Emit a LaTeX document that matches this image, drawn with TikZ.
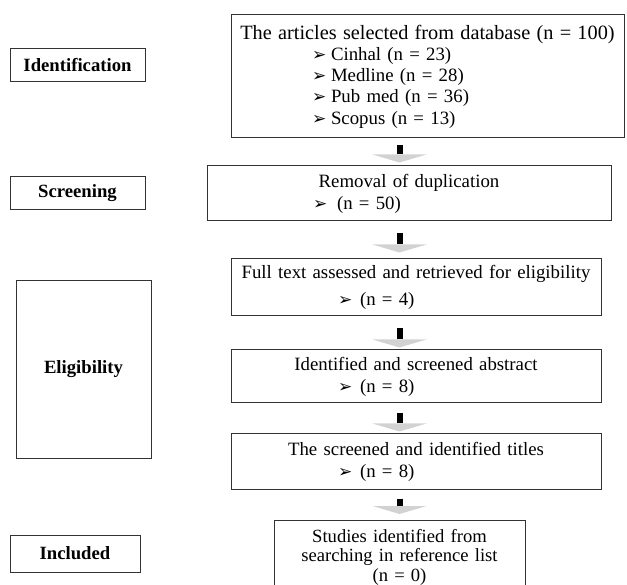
\documentclass[tikz,border=0pt]{standalone}
\usepackage{fontspec}
\setmainfont{Liberation Serif}
\newfontfamily\symfont{DejaVu Sans}
\usetikzlibrary{arrows.meta}
\newcommand{\bul}[1]{\makebox[#1][l]{\symfont\fontsize{17}{17}\selectfont ➢}}
\newcommand{\bline}[3]{\makebox[\hsize][l]{\hspace*{#1}\bul{#2}#3}}

\begin{document}
\begin{tikzpicture}[x=1pt,y=-1pt,
	box/.style = {draw=black!80, line width=1pt, inner sep=0pt, align=center,
		font=\fontsize{18.8}{22}\selectfont},
	stage/.style = {draw=black!80, line width=1pt, inner sep=0pt,
		font=\bfseries\fontsize{18.7}{20}\selectfont},
	flow/.style 2 args = {line width=6pt, black, shorten <=#1, shorten >=#2,
		-{Triangle[width=54pt,length=8pt,line width=0pt,color=gray!35]}}]
	
	\clip (0,0) rectangle (627,585);
	
	% stages on the left
	\node[stage, minimum width=135pt, minimum height=33pt] (ident) at (77.5,65.5) {Identification};
	\node[stage, minimum width=135pt, minimum height=33pt] (screen) at (77.5,193.5) {Screening};
	\node[stage, minimum width=135pt, minimum height=177pt] (elig) at (83.5,369.5) {Eligibility};
	\node[stage, minimum width=130pt, minimum height=37pt] (incl) at (75,553.5) {Included};
	
	% flow boxes
	\node[box, text width=393pt, minimum height=123pt, font=\fontsize{18.8}{21.3}\selectfont] (db) at (427.5,76.5)
	{{\fontsize{20.3}{21.3}\selectfont The articles selected from database (n = 100)}\\
		\bline{81pt}{19pt}{Cinhal (n = 23)}\\
		\bline{81pt}{19pt}{Medline (n = 28)}\\
		\bline{81pt}{19pt}{Pub med (n = 36)}\\
		\bline{81pt}{19pt}{Scopus (n = 13)}};
	\node[box, text width=404pt, minimum height=55pt] (dup) at (409,193.5)
	{Removal of duplication\\ \bline{106pt}{24pt}{(n = 50)}};
	\node[box, text width=370pt, minimum height=57pt] (full) at (416,287.5)
	{Full text assessed and retrieved for eligibility\\[5pt] \bline{107pt}{22pt}{(n = 4)}};
	\node[box, text width=370pt, minimum height=53pt] (abs) at (416,376.5)
	{Identified and screened abstract\\ \bline{107pt}{22pt}{(n = 8)}};
	\node[box, text width=370pt, minimum height=55pt] (tit) at (416,461.5)
	{The screened and identified titles\\ \bline{107pt}{22pt}{(n = 8)}};
	\node[box, text width=251pt, minimum height=73pt, font=\fontsize{18.6}{19.5}\selectfont] (ref) at (399.5,557)
	{Studies identified from\\ searching in reference list\\ (n = 0)};
	
	% arrows
	\draw[flow={7pt}{3pt}] (db.south -| ref.center) -- (dup.north -| ref.center);
	\draw[flow={12pt}{6pt}] (dup.south -| ref.center) -- (full.north -| ref.center);
	\draw[flow={12pt}{2pt}] (full.south -| ref.center) -- (abs.north -| ref.center);
	\draw[flow={10pt}{2pt}] (abs.south -| ref.center) -- (tit.north -| ref.center);
	\draw[flow={9pt}{6pt}] (tit.south -| ref.center) -- (ref.north -| ref.center);
\end{tikzpicture}
\end{document}
